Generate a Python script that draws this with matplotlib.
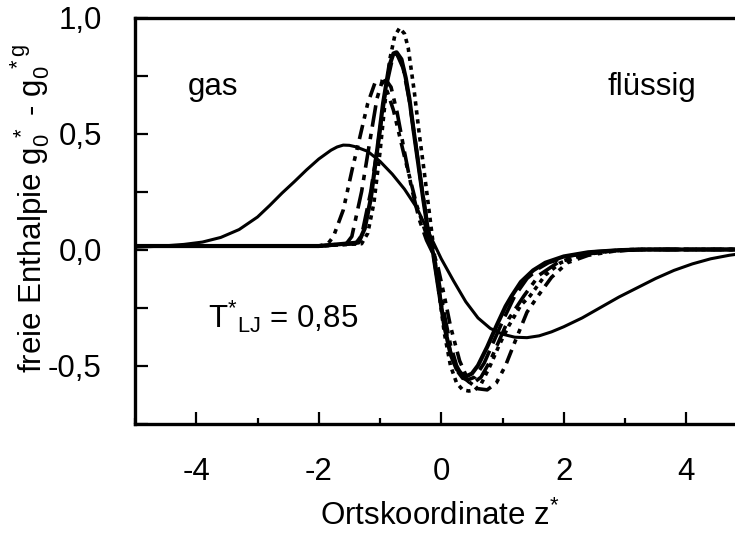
import matplotlib
matplotlib.use("Agg")
import matplotlib.pyplot as plt
from matplotlib.ticker import MultipleLocator, FuncFormatter

plt.rcParams['font.family'] = ['Liberation Sans', 'DejaVu Sans']
plt.rcParams['mathtext.fontset'] = 'custom'
plt.rcParams['mathtext.rm'] = 'Liberation Sans'
plt.rcParams['mathtext.it'] = 'Liberation Sans'
plt.rcParams['mathtext.bf'] = 'Liberation Sans:bold'

# Broad profile (thin solid)
z_broad = [-5.0, -4.6, -4.2, -3.9, -3.6, -3.3, -3.0, -2.8, -2.6, -2.4, -2.2, -2.0,
           -1.8, -1.7, -1.6, -1.5, -1.4, -1.2, -1.0, -0.8, -0.6, -0.4, -0.2, -0.1,
           0.0, 0.2, 0.4, 0.6, 0.8, 1.0, 1.2, 1.4, 1.6, 1.8, 2.0, 2.3, 2.6, 2.9,
           3.2, 3.5, 3.8, 4.1, 4.4, 4.7, 5.0]
g_broad = [0.01, 0.014, 0.022, 0.032, 0.052, 0.086, 0.14, 0.19, 0.243, 0.292, 0.343, 0.39,
           0.428, 0.442, 0.45, 0.449, 0.443, 0.423, 0.38, 0.325, 0.26, 0.18, 0.07, 0.015,
           -0.04, -0.135, -0.225, -0.295, -0.34, -0.365, -0.378, -0.38, -0.372, -0.355,
           -0.333, -0.295, -0.25, -0.205, -0.165, -0.125, -0.09, -0.062, -0.04, -0.025, -0.014]

# Sharp profiles
z_solid = [-5.0, -2.0, -1.35, -1.25, -1.15, -1.05, -0.95, -0.85, -0.78, -0.73, -0.65,
           -0.58, -0.52, -0.45, -0.37, -0.29, -0.21, -0.13, -0.05, 0.05, 0.15,
           0.25, 0.35, 0.42, 0.5, 0.6, 0.75, 0.9, 1.05, 1.15, 1.3, 1.5, 1.7, 2.0,
           2.4, 2.9, 3.3, 5.0]
g_solid = [0.015, 0.015, 0.03, 0.09, 0.22, 0.42, 0.63, 0.79, 0.845, 0.85, 0.82,
           0.74, 0.65, 0.51, 0.36, 0.21, 0.07, -0.02, -0.16, -0.33, -0.45,
           -0.515, -0.54, -0.545, -0.535, -0.5, -0.42, -0.33, -0.245, -0.2, -0.14,
           -0.09, -0.057, -0.03, -0.012, -0.003, 0.0, 0.0]

z_dot = [-5.0, -2.0, -1.3, -1.2, -1.1, -1.0, -0.9, -0.84, -0.76, -0.68, -0.6,
         -0.54, -0.44, -0.36, -0.29, -0.2, -0.13, -0.05, 0.05, 0.15, 0.25,
         0.35, 0.45, 0.55, 0.65, 0.8, 0.95, 1.1, 1.3, 1.45, 1.7, 1.95, 2.3,
         2.7, 3.1, 5.0]
g_dot = [0.015, 0.015, 0.025, 0.07, 0.2, 0.42, 0.68, 0.82, 0.92, 0.955, 0.93,
         0.87, 0.68, 0.5, 0.36, 0.17, 0.02, -0.16, -0.36, -0.5, -0.575,
         -0.605, -0.61, -0.605, -0.58, -0.5, -0.41, -0.33, -0.24, -0.2, -0.11,
         -0.057, -0.025, -0.008, 0.0, 0.0]

z_dash = [-5.0, -2.0, -1.4, -1.3, -1.15, -1.03, -0.9, -0.8, -0.72, -0.62, -0.52,
          -0.42, -0.32, -0.22, -0.13, -0.05, 0.05, 0.15, 0.25, 0.35, 0.45,
          0.55, 0.7, 0.85, 1.0, 1.2, 1.4, 1.6, 1.75, 2.1, 2.5, 3.0, 3.4, 5.0]
g_dash = [0.015, 0.015, 0.025, 0.06, 0.25, 0.46, 0.7, 0.82, 0.84, 0.78, 0.64,
          0.46, 0.27, 0.1, -0.02, -0.15, -0.32, -0.44, -0.52, -0.555, -0.56,
          -0.55, -0.49, -0.4, -0.31, -0.2, -0.125, -0.08, -0.057, -0.028, -0.01,
          -0.002, 0.0, 0.0]

z_dashdot = [-5.0, -2.0, -1.55, -1.46, -1.3, -1.17, -1.05, -0.97, -0.9, -0.82,
             -0.72, -0.6, -0.48, -0.36, -0.24, -0.13, -0.05, 0.05, 0.15, 0.25,
             0.35, 0.45, 0.55, 0.65, 0.8, 0.95, 1.1, 1.35, 1.6, 1.9, 2.3, 2.8,
             3.2, 5.0]
g_dashdot = [0.015, 0.015, 0.025, 0.056, 0.25, 0.46, 0.65, 0.72, 0.73, 0.7,
             0.59, 0.42, 0.26, 0.13, 0.04, -0.02, -0.12, -0.28, -0.41, -0.5,
             -0.55, -0.57, -0.57, -0.55, -0.48, -0.39, -0.3, -0.2, -0.11, -0.057,
             -0.022, -0.006, 0.0, 0.0]

z_dashdotdot = [-5.0, -2.0, -1.85, -1.76, -1.6, -1.45, -1.35, -1.2, -1.08, -0.98,
                -0.88, -0.78, -0.6, -0.4, -0.25, -0.13, -0.05, 0.05, 0.15, 0.3,
                0.45, 0.6, 0.75, 0.9, 1.05, 1.2, 1.4, 1.58, 1.8, 2.06, 2.4, 2.8,
                3.2, 5.0]
g_dashdotdot = [0.015, 0.015, 0.025, 0.056, 0.17, 0.35, 0.46, 0.63, 0.72, 0.725,
                0.68, 0.6, 0.4, 0.19, 0.07, -0.01, -0.08, -0.2, -0.33, -0.48,
                -0.57, -0.6, -0.605, -0.575, -0.5, -0.4, -0.27, -0.2, -0.12, -0.057,
                -0.025, -0.008, 0.0, 0.0]

xticks = [-4, -2, 0, 2, 4]
yticks = [-0.5, 0.0, 0.5, 1.0]

FS = 22.5

fig = plt.figure(figsize=(7.35, 5.39), dpi=100)
ax = fig.add_axes([135 / 735, 115.5 / 539, 612.5 / 735, 406 / 539])

line_kw = dict(color='black', solid_joinstyle='round', dash_joinstyle='round')
ax.plot(z_broad, g_broad, lw=2.2, ls='-', **line_kw)
ax.plot(z_solid, g_solid, lw=3.0, ls='-', **line_kw)
ax.plot(z_dot, g_dot, lw=2.6, ls=(0, (1.2, 1.3)), **line_kw)
ax.plot(z_dash, g_dash, lw=2.6, ls=(0, (6, 2.2)), **line_kw)
ax.plot(z_dashdot, g_dashdot, lw=2.6, ls=(0, (6, 2, 1.5, 2)), **line_kw)
ax.plot(z_dashdotdot, g_dashdotdot, lw=2.6, ls=(0, (4, 1.8, 1.3, 1.8, 1.3, 1.8)), **line_kw)

ax.set_xlim(-5, 5)
ax.set_ylim(-0.75, 1.0)
ax.set_xticks(xticks)
ax.set_yticks(yticks)
ax.xaxis.set_minor_locator(MultipleLocator(1))
ax.yaxis.set_minor_locator(MultipleLocator(0.25))

comma = FuncFormatter(lambda v, p: (f"{v:.1f}").replace('.', ','))
ax.yaxis.set_major_formatter(comma)
ax.xaxis.set_major_formatter(FuncFormatter(lambda v, p: f"{v:.0f}"))

ax.tick_params(axis='x', which='major', direction='in', length=9, width=1.6,
               labelsize=FS, pad=24)
ax.tick_params(axis='x', which='minor', direction='in', length=4.5, width=1.6)
ax.tick_params(axis='y', which='major', direction='in', length=9, width=1.6,
               labelsize=FS, pad=24)
ax.tick_params(axis='y', which='minor', direction='in', length=9, width=1.6)

for s in ['left', 'bottom', 'top']:
    ax.spines[s].set_linewidth(2.4)
ax.spines['right'].set_visible(False)

ax.text(-3.72, 0.70, 'gas', fontsize=FS, ha='center', va='center')
ax.text(3.44, 0.70, 'flüssig', fontsize=FS, ha='center', va='center')
ax.text(-3.8, -0.29, r'T$^{*}$$_{\mathrm{LJ}}$ = 0,85', fontsize=FS, ha='left', va='center')

ax.set_xlabel(r'Ortskoordinate z$^{*}$', fontsize=FS)
ax.xaxis.set_label_coords(0.497, -0.19)
ax.set_ylabel(r'freie Enthalpie g$_0^{\ *}$ - g$_0^{\ *g}$', fontsize=FS)
ax.yaxis.set_label_coords(-0.135, 0.53)

fig.savefig('out.png', dpi=100)
